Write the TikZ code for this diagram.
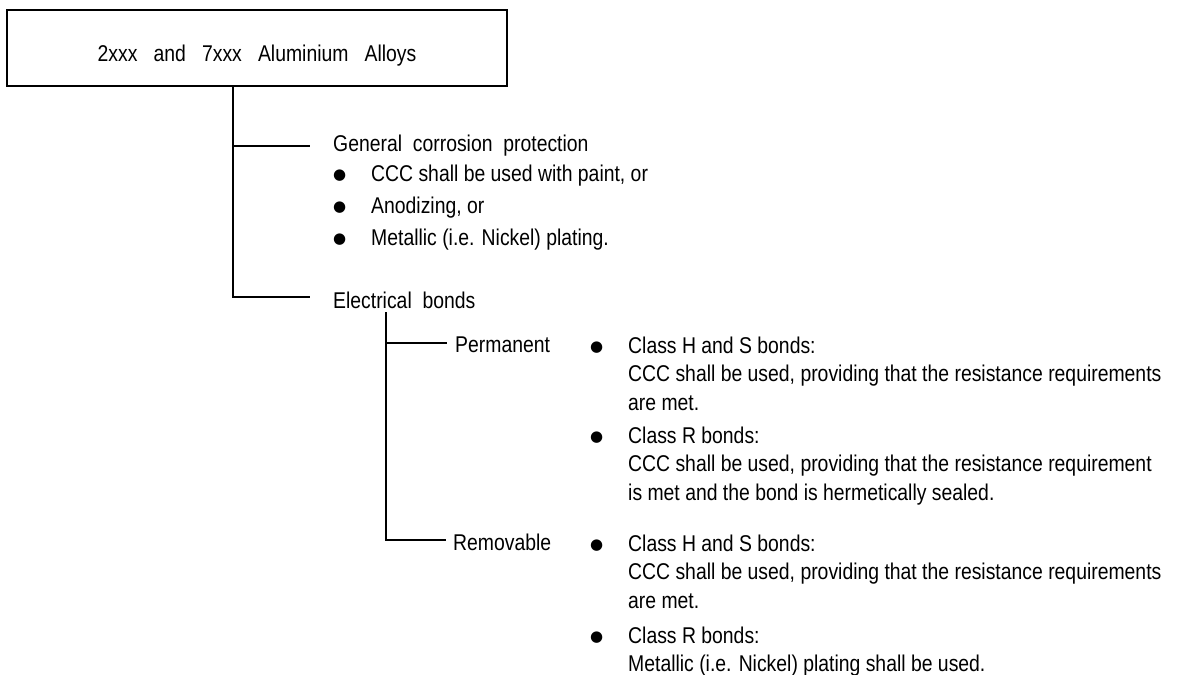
\documentclass[tikz,border=0pt]{standalone}
\usepackage{fontspec}
\setmainfont{Liberation Sans}[FakeStretch=0.85]
\newfontfamily\symfont{DejaVu Sans}
\usepackage{tikz}
\usetikzlibrary{positioning}

\newcommand{\txtsize}{\fontsize{22.8pt}{28.5pt}\selectfont}
\newcommand{\blt}{\makebox[38pt][l]{\raisebox{2pt}{\symfont\fontsize{15pt}{15pt}\selectfont ●}}}

\begin{document}
\begin{tikzpicture}[x=1pt, y=-1pt,
    titlebox/.style={draw, line width=2.2pt, minimum width=500pt, minimum height=76pt, inner sep=0pt, text height=26pt, text depth=0pt, font=\txtsize},
    lbl/.style={anchor=base west, inner sep=0pt, text height=17pt, text depth=5pt, font=\txtsize},
    cont/.style={below=6.5pt of #1.south west, anchor=north west, inner sep=0pt, text height=17pt, text depth=5pt, font=\txtsize},
    link/.style={line width=2pt}]

    \useasboundingbox (0,0) rectangle (1184,675);

    \node [titlebox] (alloys) at (257,48) {2xxx~~~and~~~7xxx~~~Aluminium~~~Alloys};

    % general corrosion protection
    \node [lbl, text height=15pt] (general) at (333,151) {General~~corrosion~~protection};
    \node [lbl] (itemPaint) at (333,181) {\blt CCC shall be used with paint, or};
    \node [lbl] (itemAnod) at (333,213) {\blt Anodizing, or};
    \node [lbl] (itemNickel) at (333,245) {\blt Metallic (i.e. Nickel) plating.};

    % electrical bonds
    \node [lbl, text height=22pt, text depth=0pt] (elec) at (333,308) {Electrical~~bonds};

    \node [lbl, text height=18pt, text depth=0pt] (perm) at (455,352) {Permanent};
    \node [lbl] (permHS) at (590,353) {\blt Class H and S bonds:};
    \node [cont=permHS, xshift=38pt] (permHSa) {CCC shall be used, providing that the resistance requirements};
    \node [cont=permHSa] (permHSb) {are met.};
    \node [lbl] (permR) at (590,443) {\blt Class R bonds:};
    \node [cont=permR, xshift=38pt] (permRa) {CCC shall be used, providing that the resistance requirement};
    \node [cont=permRa] (permRb) {is met and the bond is hermetically sealed.};

    \node [lbl, text height=20pt, text depth=0pt] (remov) at (453,550) {Removable};
    \node [lbl] (remHS) at (590,551) {\blt Class H and S bonds:};
    \node [cont=remHS, xshift=38pt] (remHSa) {CCC shall be used, providing that the resistance requirements};
    \node [cont=remHSa] (remHSb) {are met.};
    \node [lbl] (remR) at (590,643) {\blt Class R bonds:};
    \node [cont=remR, xshift=38pt] (remRa) {Metallic (i.e. Nickel) plating shall be used.};

    \coordinate (trunkA) at (233,86);
    \coordinate (trunkB) at (386,312);

    \draw [link, shorten >=23pt] (trunkA) |- (general);
    \draw [link, shorten >=23pt] (trunkA) |- (elec);
    \draw [link, shorten >=8pt] (trunkB) |- (perm);
    \draw [link, shorten >=7pt] (trunkB) |- (remov);
\end{tikzpicture}
\end{document}
